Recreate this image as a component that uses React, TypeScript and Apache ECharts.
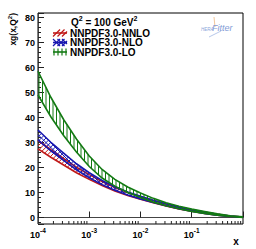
import React, { useEffect, useRef } from "react";
import * as echarts from "echarts";

// ---- data (x at quarter-decade steps) ----
const xValues = [
  1e-4, 1.78e-4, 3.16e-4, 5.62e-4, 1e-3, 1.78e-3, 3.16e-3, 5.62e-3, 1e-2,
  1.78e-2, 3.16e-2, 5.62e-2, 0.1, 0.178, 0.316, 0.562, 1,
];
const nnloLower = [27.45, 24.1, 21.0, 17.9, 15.25, 12.8, 10.6, 8.8, 7.28, 5.9, 4.6, 3.46, 2.47, 1.63, 0.92, 0.37, 0.07];
const nnloUpper = [30.95, 27.1, 23.6, 20.1, 17.15, 14.4, 12.0, 10.0, 8.32, 6.8, 5.4, 4.14, 3.03, 2.07, 1.24, 0.59, 0.21];
const nloLower = [31.0, 26.7, 22.85, 19.1, 15.9, 13.15, 10.88, 8.98, 7.4, 5.97, 4.68, 3.54, 2.5, 1.66, 0.92, 0.38, 0.07];
const nloUpper = [35.0, 30.1, 25.75, 21.5, 17.9, 14.85, 12.32, 10.22, 8.5, 6.93, 5.52, 4.26, 3.1, 2.14, 1.28, 0.62, 0.23];
const loLower = [49.0, 40.3, 32.8, 26.2, 20.4, 15.8, 12.55, 10.0, 8.0, 6.15, 4.7, 3.5, 2.45, 1.65, 0.95, 0.4, 0.05];
const loUpper = [58.5, 48.1, 39.2, 31.4, 24.6, 19.2, 15.25, 12.2, 9.8, 7.65, 5.9, 4.5, 3.35, 2.35, 1.45, 0.7, 0.25];

const seriesNames = ["NNPDF3.0-NNLO", "NNPDF3.0-NLO", "NNPDF3.0-LO"];
const seriesColors = ["#c01818", "#1818b0", "#137a13"];
const hatches = ["/", "x", "|"];

const xMinorTicks = [
  2e-4, 3e-4, 4e-4, 5e-4, 6e-4, 7e-4, 8e-4, 9e-4,
  2e-3, 3e-3, 4e-3, 5e-3, 6e-3, 7e-3, 8e-3, 9e-3,
  2e-2, 3e-2, 4e-2, 5e-2, 6e-2, 7e-2, 8e-2, 9e-2,
  0.2, 0.3, 0.4, 0.5, 0.6, 0.7, 0.8, 0.9,
];

const X_MIN = 1e-4;
const X_MAX = 1;
const Y_MIN = -2.6;
const Y_MAX = 81.8;

const FONT = '"Liberation Sans", Arial, Helvetica, sans-serif';

function bandRenderer(lo: number[], hi: number[], color: string, hatch: string) {
  return (params: any, api: any) => {
    if (params.dataIndex !== 0) return null;
    const L = xValues.map((x, i) => api.coord([x, lo[i]]));
    const U = xValues.map((x, i) => api.coord([x, hi[i]]));
    const interp = (P: number[][], px: number) => {
      for (let k = 0; k < P.length - 1; k++) {
        const a = P[k];
        const b = P[k + 1];
        if (px <= b[0] || k === P.length - 2) {
          const t = Math.max(0, Math.min(1, (px - a[0]) / (b[0] - a[0])));
          return a[1] + t * (b[1] - a[1]);
        }
      }
      return P[P.length - 1][1];
    };
    const x0 = L[0][0];
    const x1 = L[L.length - 1][0];
    const children: any[] = [];
    const seg = (ax: number, ay: number, bx: number, by: number) =>
      children.push({
        type: "line",
        silent: true,
        shape: { x1: ax, y1: ay, x2: bx, y2: by },
        style: { stroke: color, lineWidth: 1 },
      });
    if (hatch === "|") {
      for (let px = x0 + 1; px < x1; px += 3.5) {
        seg(px, interp(L, px), px, interp(U, px));
      }
    } else {
      const N = Math.ceil((x1 - x0) / 0.5);
      const xs: number[] = [];
      const yl: number[] = [];
      const yu: number[] = [];
      for (let i = 0; i <= N; i++) {
        const px = x0 + (i * (x1 - x0)) / N;
        xs.push(px);
        yl.push(interp(L, px));
        yu.push(interp(U, px));
      }
      const family = (sign: number) => {
        let cmin = Infinity;
        let cmax = -Infinity;
        for (let i = 0; i <= N; i++) {
          const c1 = yu[i] - sign * xs[i];
          const c2 = yl[i] - sign * xs[i];
          cmin = Math.min(cmin, c1, c2);
          cmax = Math.max(cmax, c1, c2);
        }
        const sp = 4.6;
        for (let c = Math.floor(cmin / sp) * sp; c <= cmax; c += sp) {
          let start = -1;
          for (let i = 0; i <= N; i++) {
            const y = c + sign * xs[i];
            const inside = y >= yu[i] - 0.3 && y <= yl[i] + 0.3;
            if (inside && start < 0) start = i;
            if (start >= 0 && (!inside || i === N)) {
              const end = inside ? i : i - 1;
              if (end > start) {
                seg(xs[start], c + sign * xs[start], xs[end], c + sign * xs[end]);
              }
              start = -1;
            }
          }
        }
      };
      family(-1);
      if (hatch === "x") family(1);
    }
    children.push({
      type: "polyline",
      silent: true,
      shape: { points: U },
      style: { stroke: color, lineWidth: 1.6, fill: "none" },
    });
    children.push({
      type: "polyline",
      silent: true,
      shape: { points: L },
      style: { stroke: color, lineWidth: 1.6, fill: "none" },
    });
    return { type: "group", children };
  };
}

function legendIcon(cx0: number, cy: number, color: string, hatch: string): any[] {
  const els: any[] = [];
  const w = 14;
  const h = 3.5;
  const ln = (a: number, b: number, c: number, d: number, lw = 1) =>
    els.push({
      type: "line",
      shape: { x1: a, y1: b, x2: c, y2: d },
      style: { stroke: color, lineWidth: lw },
    });
  if (hatch === "|") {
    for (let k = 0; k < 4; k++) ln(cx0 + 1 + k * 4, cy - h, cx0 + 1 + k * 4, cy + h, 1.2);
  } else {
    for (let k = 0; k < 3; k++) {
      const s = cx0 + k * 4.5;
      ln(s, cy + h, Math.min(s + 2 * h, cx0 + w), cy + h - (Math.min(s + 2 * h, cx0 + w) - s), 1.2);
      if (hatch === "x") ln(s, cy - h, Math.min(s + 2 * h, cx0 + w), cy - h + (Math.min(s + 2 * h, cx0 + w) - s), 1.2);
    }
  }
  ln(cx0, cy, cx0 + w, cy, 1.6);
  return els;
}

export default function App() {
  const ref = useRef<HTMLDivElement | null>(null);
  useEffect(() => {
    if (!ref.current) return;
    const chart = echarts.init(ref.current, undefined, { renderer: "svg" });
    const bands = [
      [nnloLower, nnloUpper],
      [nloLower, nloUpper],
      [loLower, loUpper],
    ];
    const bandSeries = bands.map(([lo, hi], s) => ({
      type: "custom",
      name: seriesNames[s],
      silent: true,
      z: 3 + s,
      renderItem: bandRenderer(lo, hi, seriesColors[s], hatches[s]),
      encode: { x: 0, y: [1, 2] },
      data: xValues.map((x, i) => [x, lo[i], hi[i]]),
    }));
    const legendRows = [33, 42.5, 52];
    const graphic: any[] = [];
    legendRows.forEach((y, i) => {
      graphic.push(...legendIcon(53, y, seriesColors[i], hatches[i]));
      graphic.push({
        type: "text",
        x: 70,
        y,
        style: {
          text: seriesNames[i],
          fill: "#000",
          font: `bold 10px ${FONT}`,
          align: "left",
          verticalAlign: "middle",
        },
      });
    });
    const supRich = (main: number, sup: number, mainLH: number) => ({
      a: { fontSize: main, fontWeight: "bold", fontFamily: FONT, fill: "#000", color: "#000", lineHeight: mainLH },
      b: { fontSize: sup, fontWeight: "bold", fontFamily: FONT, fill: "#000", color: "#000", lineHeight: sup, verticalAlign: "top" },
    });
    graphic.push({
      type: "text",
      x: 71,
      y: 22,
      style: {
        text: "{a|Q}{b|2}{a| = 100 GeV}{b|2}",
        rich: supRich(10, 7, 14),
        align: "left",
        verticalAlign: "middle",
      },
    });
    graphic.push({
      type: "text",
      x: 13,
      y: 13,
      rotation: Math.PI / 2,
      style: {
        text: "{a|xg(x,Q}{b|2}{a|)}",
        rich: supRich(8.5, 6, 12),
        align: "right",
        verticalAlign: "middle",
      },
    });
    graphic.push({
      type: "text",
      x: 236,
      y: 241,
      style: {
        text: "x",
        fill: "#000",
        font: `bold 10px ${FONT}`,
        align: "center",
        verticalAlign: "middle",
      },
    });
    // HERAFitter logo (faint)
    graphic.push({
      type: "line",
      shape: { x1: 214, y1: 17, x2: 215, y2: 27 },
      style: { stroke: "#f3c79c", lineWidth: 1 },
    });
    graphic.push({
      type: "line",
      shape: { x1: 209, y1: 37, x2: 221, y2: 31 },
      style: { stroke: "#b7c8ea", lineWidth: 1 },
    });
    graphic.push({
      type: "text",
      x: 201,
      y: 29,
      style: {
        text: "HERA",
        fill: "#8ba6da",
        font: `italic 4.5px ${FONT}`,
        align: "left",
        verticalAlign: "middle",
      },
    });
    graphic.push({
      type: "text",
      x: 212,
      y: 28,
      style: {
        text: "Fitter",
        fill: "#7f9bd6",
        font: `italic 9px ${FONT}`,
        align: "left",
        verticalAlign: "middle",
      },
    });

    chart.setOption({
      animation: false,
      backgroundColor: "#fff",
      grid: {
        left: 38,
        right: 13,
        top: 13,
        bottom: 25,
        show: true,
        borderColor: "#000",
        borderWidth: 1,
        backgroundColor: "transparent",
      },
      xAxis: {
        type: "log",
        logBase: 10,
        min: X_MIN,
        max: X_MAX,
        axisLine: { show: true, lineStyle: { color: "#444", width: 1 } },
        axisTick: { show: true, inside: true, length: 6, lineStyle: { color: "#222" } },
        splitLine: { show: false },
        minorTick: { show: false },
        axisLabel: {
          margin: 3,
          formatter: (v: number) => {
            const e = Math.round(Math.log10(v));
            if (e >= 0) return "";
            return `{m|10}{s|${e}}`;
          },
          rich: {
            m: { fontSize: 9, fontWeight: "bold", fontFamily: FONT, color: "#000", lineHeight: 16 },
            s: { fontSize: 6.5, fontWeight: "bold", fontFamily: FONT, color: "#000", lineHeight: 9, verticalAlign: "top" },
          },
        },
      },
      yAxis: {
        type: "value",
        min: Y_MIN,
        max: Y_MAX,
        minInterval: 10,
        maxInterval: 10,
        splitNumber: 8,
        axisLine: { show: true, lineStyle: { color: "#444", width: 1 } },
        axisTick: { show: true, inside: true, length: 6, lineStyle: { color: "#222" } },
        minorTick: { show: true, splitNumber: 5, length: 3, lineStyle: { color: "#222" } },
        splitLine: { show: false },
        minorSplitLine: { show: false },
        axisLabel: {
          margin: 3,
          color: "#000",
          fontSize: 9,
          fontWeight: "bold",
          fontFamily: FONT,
          formatter: (v: number) => (Math.abs(v % 10) < 1e-6 ? String(Math.round(v)) : ""),
        },
      },
      series: [
        ...bandSeries,
        {
          type: "custom",
          name: "minor ticks",
          silent: true,
          z: 10,
          encode: { x: 0, y: 1 },
          data: xMinorTicks.map((v) => [v, Y_MIN]),
          renderItem: (params: any, api: any) => {
            const p = api.coord([api.value(0), Y_MIN]);
            return {
              type: "line",
              shape: { x1: p[0], y1: p[1], x2: p[0], y2: p[1] - 3 },
              style: { stroke: "#222", lineWidth: 1 },
            };
          },
        },
      ],
      graphic,
    });
    return () => chart.dispose();
  }, []);
  return (
    <div
      ref={ref}
      style={{ position: "fixed", left: 0, top: 0, width: 256, height: 249, background: "#fff" }}
    />
  );
}
